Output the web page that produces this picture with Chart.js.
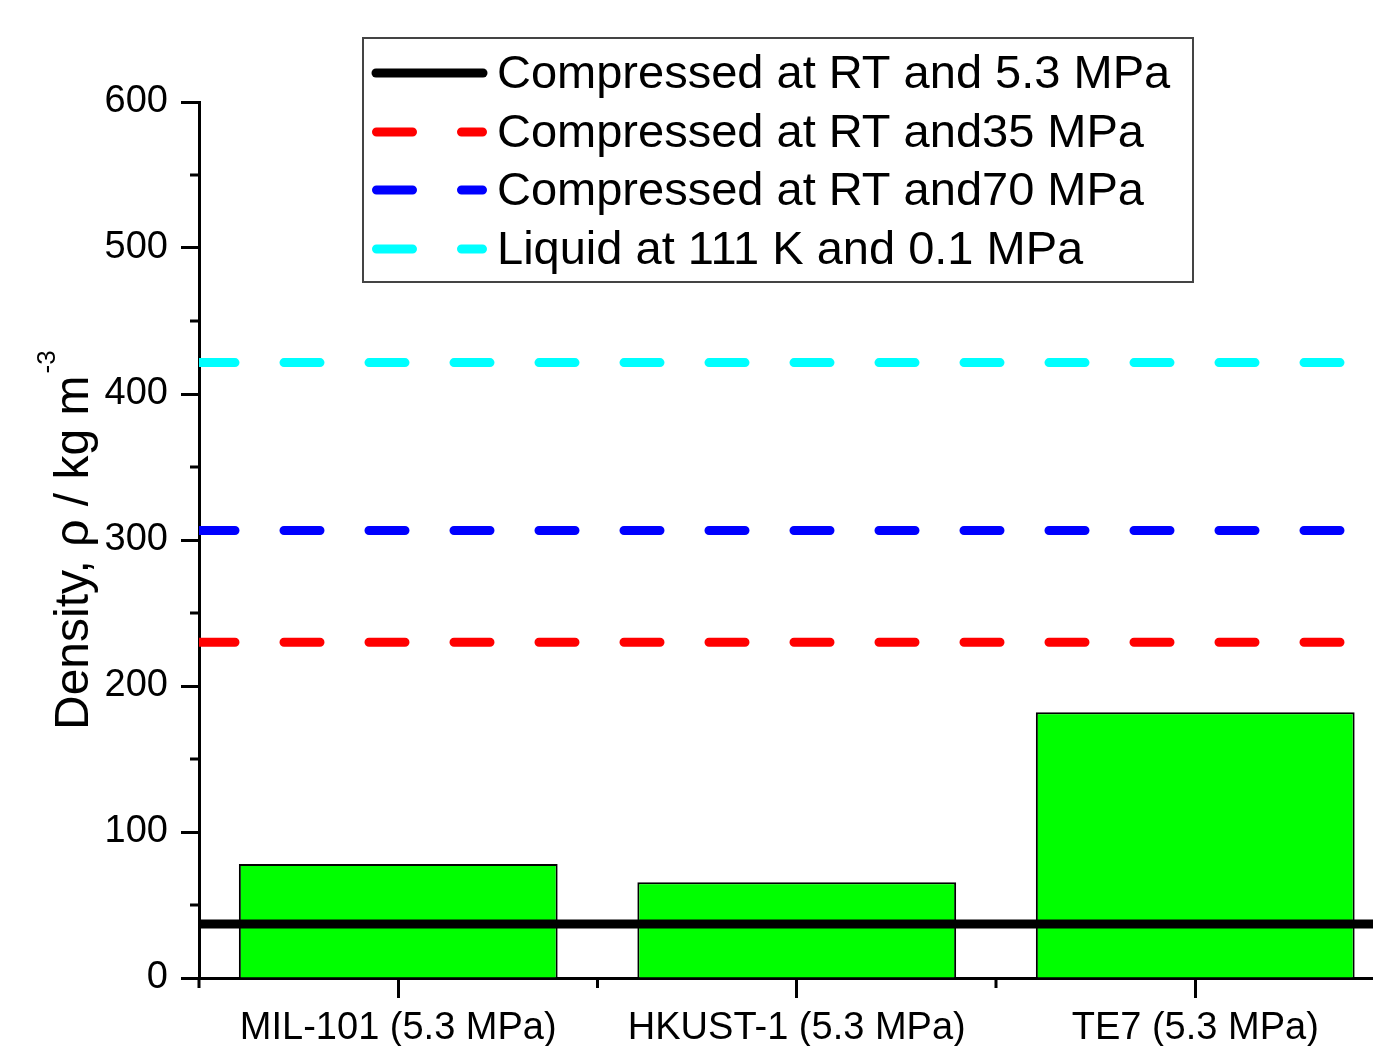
<!DOCTYPE html>
<html>
<head>
<meta charset="utf-8">
<script src="https://cdn.jsdelivr.net/npm/chart.js@4.4.1/dist/chart.umd.min.js"></script>
<style>
  html, body { margin: 0; padding: 0; background: #fff; overflow: hidden; }
  #wrap { width: 1400px; height: 1046px; }
</style>
</head>
<body>
<div id="wrap"><canvas id="densityChart" width="1400" height="1046"></canvas></div>
<script>
// Datos
const categories = ['MIL-101 (5.3 MPa)', 'HKUST-1 (5.3 MPa)', 'TE7 (5.3 MPa)'];
const densities = [78, 65.5, 182];

const refNames = [
    'Compressed at RT and 5.3 MPa',
    'Compressed at RT and35 MPa',
    'Compressed at RT and70 MPa',
    'Liquid at 111 K and 0.1 MPa'
];
const refValues = [37, 230, 306.5, 421.5];
const refColors = ['#000000', '#FF0000', '#0000FF', '#00FFFF'];
const refDashed = [false, true, true, true];

const yMin = 0, yMax = 600, yStep = 100, yMinorStep = 50;
const yTitle = 'Density, \u03C1 / kg m';
const yTitleSup = '-3';

const FONT = "'Liberation Sans', Arial, sans-serif";
const DASH = [36, 49];

// Datasets
const lineSets = refValues.map((v, i) => ({
    type: 'line',
    label: refNames[i],
    xAxisID: 'xl',
    data: [{ x: -0.5, y: v }, { x: categories.length - 0.5, y: v }],
    borderColor: refColors[i],
    borderWidth: 9,
    borderDash: refDashed[i] ? DASH : [],
    borderCapStyle: refDashed[i] ? 'round' : 'butt',
    pointRadius: 0,
    clip: 0,
    order: 1
}));

// Ticks menores y leyenda
const extras = {
    id: 'extras',
    afterDraw(chart) {
        const ctx = chart.ctx;
        const x = chart.scales.x, y = chart.scales.y;
        const area = chart.chartArea;
        ctx.save();
        ctx.strokeStyle = '#000';
        ctx.lineWidth = 3;
        ctx.beginPath();
        for (let v = yMin + yMinorStep; v < yMax; v += yStep) {
            const py = y.getPixelForValue(v);
            ctx.moveTo(area.left - 9, py);
            ctx.lineTo(area.left, py);
        }
        for (let i = 0; i <= categories.length; i++) {
            const px = x.getPixelForValue(i - 0.5);
            ctx.moveTo(px, area.bottom);
            ctx.lineTo(px, area.bottom + 10);
        }
        ctx.stroke();

        // Leyenda
        const bx = 363, by = 38, bw = 830, bh = 244;
        ctx.fillStyle = '#fff';
        ctx.fillRect(bx, by, bw, bh);
        ctx.strokeStyle = '#444';
        ctx.lineWidth = 2;
        ctx.strokeRect(bx, by, bw, bh);
        const rows = [73, 132, 190, 249];
        ctx.font = '47px ' + FONT;
        ctx.textBaseline = 'middle';
        ctx.textAlign = 'left';
        chart.data.datasets.filter(d => d.type === 'line').forEach((d, i) => {
            ctx.beginPath();
            ctx.strokeStyle = d.borderColor;
            ctx.lineWidth = 9;
            ctx.lineCap = d.borderCapStyle;
            ctx.setLineDash(d.borderDash);
            if (d.borderDash.length) {
                ctx.moveTo(376.5, rows[i]);
                ctx.lineTo(482.5, rows[i]);
            } else {
                ctx.lineCap = 'round';
                ctx.moveTo(376, rows[i]);
                ctx.lineTo(483, rows[i]);
            }
            ctx.stroke();
            ctx.setLineDash([]);
            ctx.fillStyle = '#000';
            ctx.fillText(d.label, 497, rows[i] + 2);
        });

        // Titulo eje Y
        ctx.translate(88, 730);
        ctx.rotate(-Math.PI / 2);
        ctx.textBaseline = 'alphabetic';
        ctx.font = '48px ' + FONT;
        ctx.fillText(yTitle, 0, 0);
        const w = ctx.measureText(yTitle).width;
        ctx.font = '26px ' + FONT;
        ctx.fillText(yTitleSup, w + 2, -33);
        ctx.restore();
    }
};

const ctx = document.getElementById('densityChart').getContext('2d');
new Chart(ctx, {
    data: {
        labels: categories,
        datasets: [
            {
                type: 'bar',
                label: 'Density',
                data: densities,
                backgroundColor: '#00FF00',
                borderColor: '#000',
                borderWidth: 2,
                grouped: false,
                barPercentage: 0.8,
                categoryPercentage: 1,
                order: 2
            },
            ...lineSets
        ]
    },
    options: {
        responsive: false,
        devicePixelRatio: 1,
        animation: false,
        layout: { padding: { top: 102, right: 5.5, left: 0, bottom: 0 } },
        plugins: { legend: { display: false }, tooltip: { enabled: false } },
        scales: {
            x: {
                type: 'category',
                offset: true,
                afterFit: s => { s.height = 68; },
                grid: { display: true, drawOnChartArea: false, offset: false, tickLength: 20, tickWidth: 3, tickColor: '#000' },
                border: { display: true, color: '#000', width: 3 },
                ticks: { color: '#000', font: { family: FONT, size: 38 }, padding: 8, maxRotation: 0, autoSkip: false }
            },
            xl: {
                type: 'linear',
                display: false,
                min: -0.5,
                max: categories.length - 0.5
            },
            y: {
                min: yMin,
                max: yMax,
                afterFit: s => { s.width = 199; },
                grid: { display: true, drawOnChartArea: false, tickLength: 18, tickWidth: 3, tickColor: '#000' },
                border: { display: true, color: '#000', width: 3 },
                ticks: { stepSize: yStep, color: '#000', font: { family: FONT, size: 38 }, padding: 13 }
            }
        }
    },
    plugins: [extras]
});
</script>
</body>
</html>
